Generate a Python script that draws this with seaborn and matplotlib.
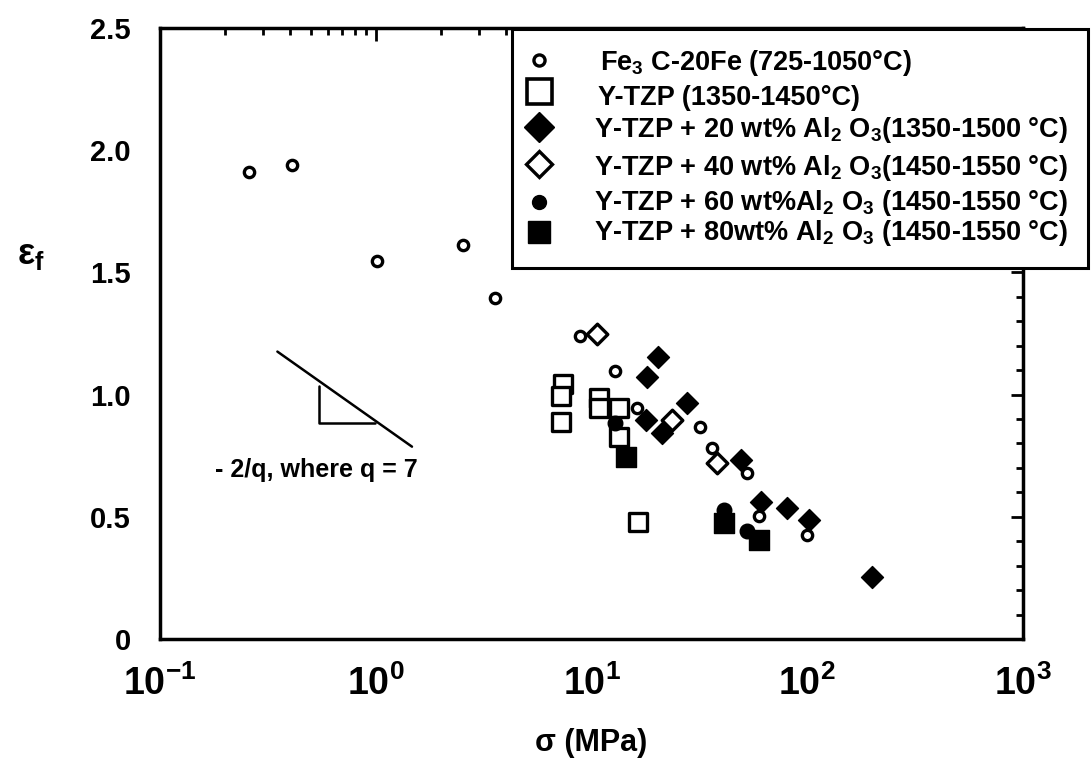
import numpy as np
import pandas as pd
import seaborn as sns
import matplotlib
matplotlib.use("Agg")
import matplotlib.pyplot as plt
from matplotlib.patches import Rectangle
from matplotlib.ticker import FixedLocator, FixedFormatter, MultipleLocator, LogLocator, NullFormatter

# ---------------- data ----------------
fe3c_x = [0.259, 0.408, 1.016, 2.54, 3.58, 8.83, 12.8, 16.2, 31.8, 36.2, 52.6, 59.6, 99.5]
fe3c_y = [1.91, 1.94, 1.548, 1.613, 1.394, 1.241, 1.098, 0.946, 0.869, 0.783, 0.680, 0.503, 0.426]

ytzp_x = [7.36, 7.26, 7.26, 10.8, 10.8, 13.4, 13.4, 16.4]
ytzp_y = [1.043, 0.994, 0.889, 0.985, 0.944, 0.944, 0.828, 0.480]

al20_x = [20.3, 18.1, 17.8, 21.3, 27.6, 49.1, 60.8, 80.9, 102, 199]
al20_y = [1.155, 1.073, 0.896, 0.842, 0.964, 0.732, 0.562, 0.535, 0.487, 0.252]

al40_x = [10.6, 23.7, 38.3]
al40_y = [1.248, 0.896, 0.719]

al60_x = [12.9, 41.1, 52.8]
al60_y = [0.883, 0.528, 0.443]

al80_x = [14.5, 41.1, 59.7]
al80_y = [0.746, 0.473, 0.405]

series_labels = [
    r"Fe$_{3}$ C-20Fe (725-1050°C)",
    "Y-TZP (1350-1450°C)",
    r"Y-TZP + 20 wt% Al$_{2}$ O$_{3}$(1350-1500 °C)",
    r"Y-TZP + 40 wt% Al$_{2}$ O$_{3}$(1450-1550 °C)",
    r"Y-TZP + 60 wt%Al$_{2}$ O$_{3}$ (1450-1550 °C)",
    r"Y-TZP + 80wt% Al$_{2}$ O$_{3}$ (1450-1550 °C)",
]

y_ticks = [0, 0.5, 1.0, 1.5, 2.0, 2.5]
y_ticklabels = ["0", "0.5", "1.0", "1.5", "2.0", "2.5"]
x_ticks = [0.1, 1, 10, 100, 1000]
x_ticklabels = [r"$10^{-1}$", r"$10^{0}$", r"$10^{1}$", r"$10^{2}$", r"$10^{3}$"]

# slope indicator (annotation)
slope_line_x = [0.350, 1.472]
slope_line_y = [1.176, 0.787]
tri_x = [0.548, 0.548, 0.995]
tri_y = [1.035, 0.885, 0.885]
slope_text = "- 2/q, where q = 7"

# ---------------- style ----------------
sns.set_theme(style="white")
plt.rcParams["font.family"] = ["Liberation Sans", "DejaVu Sans"]
plt.rcParams["font.weight"] = "bold"
for k in ["text.color", "axes.labelcolor", "xtick.color", "ytick.color", "axes.edgecolor"]:
    plt.rcParams[k] = "black"
plt.rcParams["mathtext.fontset"] = "custom"
plt.rcParams["mathtext.rm"] = "Liberation Sans:bold"
plt.rcParams["mathtext.it"] = "Liberation Sans:bold"
plt.rcParams["mathtext.bf"] = "Liberation Sans:bold"
plt.rcParams["mathtext.sf"] = "Liberation Sans:bold"
plt.rcParams["mathtext.default"] = "rm"

W, H = 1091, 767
AX_L, AX_R, AX_T, AX_B = 160, 1023, 28, 639
fig = plt.figure(figsize=(W / 100, H / 100), dpi=100)
ax = fig.add_axes([AX_L / W, 1 - AX_B / H, (AX_R - AX_L) / W, (AX_B - AX_T) / H])
ax.set_xscale("log")

def px2ax(px, py):
    return (px - AX_L) / (AX_R - AX_L), (AX_B - py) / (AX_B - AX_T)

def scat(x, y, marker, s, face, lw):
    df = pd.DataFrame({"x": x, "y": y})
    sns.scatterplot(data=df, x="x", y="y", ax=ax, marker=marker, s=s,
                    color="black", facecolor=face, edgecolor="black",
                    linewidth=lw, legend=False, zorder=3)

scat(ytzp_x, ytzp_y, "s", 165, "white", 2.4)
scat(al40_x, al40_y, "D", 110, "white", 2.4)
scat(al20_x, al20_y, "D", 125, "black", 1.0)
scat(fe3c_x, fe3c_y, "o", 55, "white", 2.4)
scat(al60_x, al60_y, "o", 110, "black", 1.0)
scat(al80_x, al80_y, "s", 190, "black", 1.0)

# slope annotation
ax.plot(slope_line_x, slope_line_y, color="black", lw=1.8)
ax.plot(tri_x, tri_y, color="black", lw=1.8)
ax.text(0.18, 0.69, slope_text, fontsize=18, fontweight="bold", va="center", ha="left")

ax.set_xlim(0.1, 1000)
ax.set_ylim(0, 2.5)

ax.xaxis.set_major_locator(FixedLocator(x_ticks))
ax.xaxis.set_major_formatter(FixedFormatter(x_ticklabels))
ax.xaxis.set_minor_locator(LogLocator(base=10, subs=np.arange(2, 10)))
ax.xaxis.set_minor_formatter(NullFormatter())
ax.yaxis.set_major_locator(FixedLocator(y_ticks))
ax.yaxis.set_major_formatter(FixedFormatter(y_ticklabels))
ax.yaxis.set_minor_locator(MultipleLocator(0.1))

ax.tick_params(which="both", direction="in", top=True, right=True, color="black", width=2)
ax.tick_params(which="major", length=9)
ax.tick_params(which="minor", length=5)
ax.tick_params(axis="y", which="major", labelsize=21, pad=21)
ax.tick_params(axis="x", which="major", labelsize=27, pad=19)
for sp in ax.spines.values():
    sp.set_color("black")
    sp.set_linewidth(2.5)

ax.set_xlabel("σ (MPa)", fontsize=22, fontweight="bold")
ax.xaxis.set_label_coords(0.5, -0.145)
ax.set_ylabel(r"$\varepsilon_{f}$", fontsize=26, rotation=0)
ax.yaxis.set_label_coords(-0.15, 0.60)

# ---------------- legend box (drawn manually) ----------------
x0, y0 = px2ax(512, 268)
x1, y1 = px2ax(1088, 29)
ax.add_patch(Rectangle((x0, y0), x1 - x0, y1 - y0, transform=ax.transAxes,
                       facecolor="white", edgecolor="black", lw=2.2,
                       clip_on=False, zorder=5))
leg_marker_style = [
    dict(marker="o", ms=8, mfc="white", mec="black", mew=2.4),
    dict(marker="s", ms=18, mfc="white", mec="black", mew=2.6),
    dict(marker="D", ms=15, mfc="black", mec="black", mew=1),
    dict(marker="D", ms=13.5, mfc="white", mec="black", mew=2.4),
    dict(marker="o", ms=10, mfc="black", mec="black", mew=1),
    dict(marker="s", ms=16, mfc="black", mec="black", mew=1),
]
marker_rows = [60, 91, 127, 164, 202, 232]
text_rows = [70, 105, 137, 175, 210, 240]
text_x = [600, 598, 594, 594, 594, 594]
for lab, st, my, ty, tx in zip(series_labels, leg_marker_style, marker_rows, text_rows, text_x):
    mx, myy = px2ax(539, my)
    ax.plot([mx], [myy], transform=ax.transAxes, clip_on=False, ls="none", zorder=6, **st)
    tx_, ty_ = px2ax(tx, ty)
    ax.text(tx_, ty_, lab, transform=ax.transAxes, fontsize=19.5, fontweight="bold",
            va="baseline", ha="left", zorder=6, clip_on=False)

fig.savefig("out.png", dpi=100, facecolor="white")
